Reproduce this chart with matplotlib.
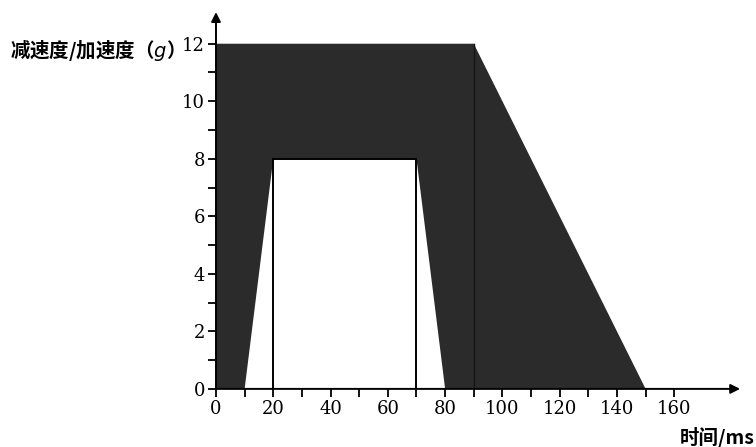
import numpy as np
import matplotlib
matplotlib.use("Agg")
import matplotlib.pyplot as plt

# outer corridor (dark area) and inner window (white area)
outer_t = [0, 0, 90, 150]
outer_g = [0, 12, 12, 0]
inner_t = [10, 20, 70, 80]
inner_g = [0, 8, 8, 0]

x_major = [0, 20, 40, 60, 80, 100, 120, 140, 160]
x_minor = [10, 30, 50, 70, 90, 110, 130, 150]
y_major = [0, 2, 4, 6, 8, 10, 12]
y_minor = [1, 3, 5, 7, 9, 11]

plt.rcParams['font.family'] = ['DejaVu Serif']
cjk = ['Noto Sans CJK SC', 'DejaVu Serif']

fig = plt.figure(figsize=(7.56, 4.47), dpi=100)
ax = fig.add_axes([0.2857, 0.13, 0.979 - 0.2857, 0.973 - 0.13])

xmax = 183
ymax = 13.1
ax.set_xlim(0, xmax)
ax.set_ylim(0, ymax)

# dark corridor
ax.fill(outer_t, outer_g, color='#2b2b2b', lw=0, zorder=1)
# white window
ax.fill(inner_t, inner_g, color='white', lw=0, zorder=2)
# borders inside the window
ax.plot([inner_t[1], inner_t[1]], [0, inner_g[1]], color='black', lw=1.4, zorder=3)
ax.plot([inner_t[2], inner_t[2]], [0, inner_g[2]], color='black', lw=1.4, zorder=3)
ax.plot([inner_t[1], inner_t[2]], [inner_g[1], inner_g[2]], color='black', lw=1.4, zorder=3)
ax.plot([outer_t[2], outer_t[2]], [0, outer_g[2]], color='#141414', lw=1.0, zorder=3)

# axes with arrows
for s in ax.spines.values():
    s.set_visible(False)
ax.annotate('', xy=(xmax, 0), xytext=(0, 0),
            arrowprops=dict(arrowstyle='-|>', color='black', lw=1.4,
                            mutation_scale=14, shrinkA=0, shrinkB=0),
            annotation_clip=False, zorder=5)
ax.annotate('', xy=(0, ymax), xytext=(0, 0),
            arrowprops=dict(arrowstyle='-|>', color='black', lw=1.4,
                            mutation_scale=14, shrinkA=0, shrinkB=0),
            annotation_clip=False, zorder=5)

ax.set_xticks(x_major)
ax.set_xticks(x_minor, minor=True)
ax.set_yticks(y_major)
ax.set_yticks(y_minor, minor=True)
ax.tick_params(axis='both', which='both', direction='out', length=6, width=1.3,
               color='black')
ax.tick_params(axis='both', which='major', labelsize=13, pad=2)

fig.text(0.013, 0.888, '减速度/加速度（$g$）', fontsize=14, fontweight='bold',
         family=cjk, ha='left', va='center')
fig.text(0.998, 0.022, '时间/ms', fontsize=14, fontweight='bold',
         family=cjk, ha='right', va='center')

fig.savefig('out.png', dpi=100)
